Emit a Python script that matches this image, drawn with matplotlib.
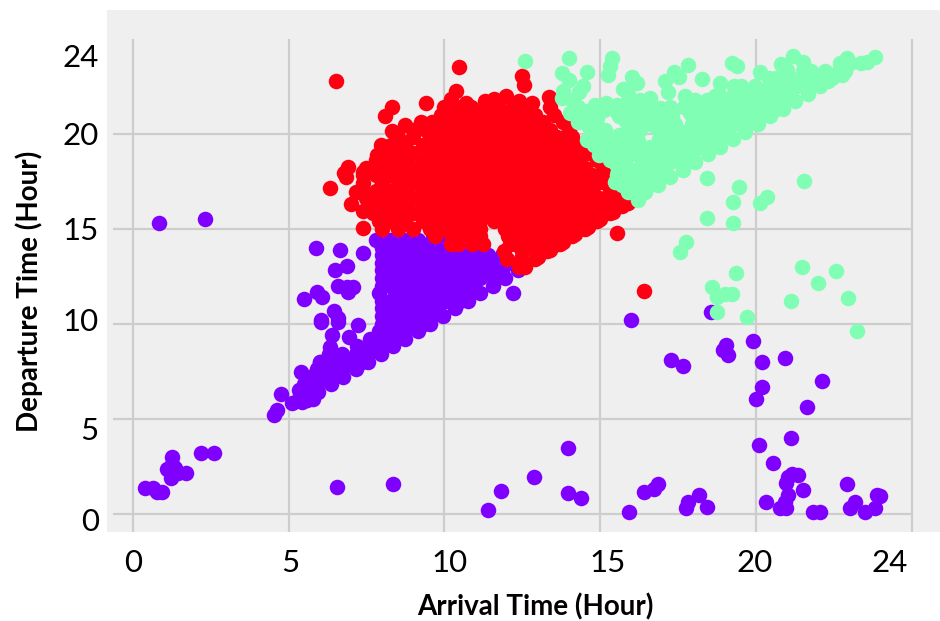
#!/usr/bin/env python3
import numpy as np
from matplotlib import pyplot as plt

plt.rcParams['font.family'] = ['Lato', 'DejaVu Sans']

# Values, in hours
grid_x = [0, 5, 10, 15, 20, 25]
grid_y = [0, 5, 10, 15, 20]
xlabel_pos = [0, 5.05, 10.15, 15.25, 19.95, 24.3]
xlabels = ['0', '5', '10', '15', '20', '24']
ylabel_pos = [24.1, 20, 15, 10.2, 4.5, -0.3]
ylabels = ['24', '20', '15', '10', '5', '0']

# Purple: loose points
purple_x = [0.83, 2.32, 5.89, 6.65, 7.4, 6.87, 6.49, 6.6, 6.92, 7.08, 6.87, 5.48, 5.9, 6.07, 6.47, 6.04, 6.6,
            6.04, 6.6, 7.24, 6.39, 6.95, 6.33, 6.01, 5.4, 5.69, 4.76, 4.62, 4.53, 5.1, 5.42, 5.8, 5.35,
            0.39, 0.66, 0.77, 0.93, 1.25, 1.09, 1.36, 1.23, 1.46, 1.71, 1.25, 2.19, 2.61,
            6.55, 8.34, 11.82, 11.39, 12.2,
            15.98, 18.55, 19.9, 19.03, 18.93, 19.1, 17.27, 17.65, 20.19, 20.93, 22.13, 20.2, 20.0, 21.63,
            21.12, 20.08, 13.98, 20.54, 12.88, 13.98, 14.39, 15.93, 16.39, 16.73, 16.84, 18.18, 17.83,
            17.76, 18.44, 21.36, 21.15, 21.01, 20.96, 21.49, 21.01, 20.93, 20.97, 20.78, 20.31, 21.84,
            22.04, 22.93, 23.18, 23.02, 23.5, 23.82, 23.88, 23.98]
purple_y = [15.3, 15.5, 14.0, 13.85, 13.7, 13.05, 12.83, 12.0, 11.68, 11.95, 11.95, 11.28, 11.65, 11.42, 10.67, 10.2, 10.3,
            10.07, 10.1, 9.93, 9.4, 9.28, 8.79, 8.0, 7.47, 7.13, 6.3, 5.46, 5.19, 5.81, 5.9, 6.02, 6.5,
            1.34, 1.34, 1.16, 1.16, 2.97, 2.35, 2.39, 1.86, 2.12, 2.12, 2.6, 3.21, 3.18,
            1.39, 1.55, 1.18, 0.2, 11.6,
            10.2, 10.63, 9.1, 8.88, 8.62, 8.35, 8.09, 7.79, 8.0, 8.21, 7.0, 6.65, 6.05, 5.63,
            3.97, 3.62, 3.47, 2.68, 1.95, 1.07, 0.81, 0.09, 1.13, 1.3, 1.55, 0.98, 0.63,
            0.28, 0.37, 2.04, 2.07, 1.95, 1.6, 1.25, 0.98, 0.63, 0.28, 0.28, 0.6, 0.1,
            0.1, 1.58, 0.63, 0.28, 0.07, 0.28, 0.98, 0.95]

# Purple: dense triangle, one list of x per row of y
purple_rows_y = [14.4, 14.0, 13.6, 13.2, 12.8, 12.4, 12.0, 11.6, 11.2, 10.8, 10.4, 10.0, 9.6, 9.2, 8.8, 8.4, 8.0, 7.6, 7.2, 6.8, 6.4, 6.0]
purple_rows_x = [
    [7.8, 8.25, 8.7, 9.15, 9.6, 10.05, 10.4],
    [8.0, 8.45, 8.9, 9.35, 9.8, 10.25, 10.7, 11.2],
    [8.0, 8.25, 8.7, 9.15, 9.6, 10.05, 10.5, 10.95, 11.4, 11.85],
    [8.0, 8.45, 8.9, 9.35, 9.8, 10.25, 10.7, 11.15, 11.6, 12.05, 12.5],
    [8.0, 8.25, 8.7, 9.15, 9.6, 10.05, 10.5, 10.95, 11.4, 11.85, 12.35],
    [8.0, 8.45, 8.9, 9.35, 9.8, 10.25, 10.7, 11.15, 11.6, 11.95],
    [8.0, 8.25, 8.7, 9.15, 9.6, 10.05, 10.5, 10.95, 11.55],
    [7.9, 8.45, 8.9, 9.35, 9.8, 10.25, 10.7, 11.15],
    [8.0, 8.25, 8.7, 9.15, 9.6, 10.05, 10.5, 10.75],
    [8.0, 8.45, 8.9, 9.35, 9.8, 10.35],
    [8.0, 8.25, 8.7, 9.15, 9.6, 9.95],
    [8.0, 8.45, 8.9, 9.35, 9.55],
    [7.9, 8.25, 8.7, 9.15],
    [7.6, 8.05, 8.45, 8.75],
    [7.2, 7.6, 8.0, 8.35],
    [6.3, 6.7, 7.15, 7.55, 7.95],
    [6.0, 6.45, 6.9, 7.35, 7.55],
    [5.9, 6.25, 6.7, 7.15],
    [5.7, 6.0, 6.45, 6.75],
    [5.5, 5.9, 6.35],
    [5.4, 5.7, 5.95],
    [5.3, 5.6],
]

# Red: loose points
red_x = [6.52, 10.46, 10.38, 9.41, 8.33, 8.1, 8.74, 9.24, 8.31, 7.97, 7.83, 6.92, 6.79, 6.85, 6.33, 7.4, 7.17, 7.0,
         7.4, 7.4, 12.5, 12.56, 11.97, 13.36, 15.55, 16.41, 15.9, 10.2, 10.7, 11.3, 11.6, 12.4, 12.8,
         15.4, 15.0, 14.6, 14.2, 13.8, 13.4, 13.0, 12.6, 15.5,
         9.55, 9.55, 9.55, 9.55, 9.55, 9.3, 9.3, 9.3, 9.3, 8.5, 8.5, 8.5, 8.5, 8.0, 8.0]
red_y = [22.74, 23.5, 22.26, 21.6, 21.39, 20.9, 20.46, 20.6, 20.16, 19.4, 18.88, 18.26, 17.92, 17.7, 17.16, 18.0, 16.95, 16.3,
         15.95, 15.05, 23.04, 22.56, 22.0, 21.92, 14.76, 11.72, 16.35, 21.8, 21.6, 21.7, 21.8, 21.7, 21.6,
         15.9, 15.5, 15.1, 14.7, 14.3, 13.9, 13.5, 13.1, 16.4,
         18.6, 17.8, 17.0, 16.2, 15.4, 18.2, 17.4, 16.6, 15.8, 17.8, 17.0, 16.2, 18.6, 17.4, 16.6]

# Red: dense block
red_rows_y = [21.4, 21.0, 20.6, 20.2, 19.8, 19.4, 19.0, 18.6, 18.2, 17.8, 17.4, 17.0, 16.6, 16.2, 15.8, 15.4, 15.0, 14.6, 14.2, 13.8, 13.4, 13.0]
red_rows_x = [
    [10.0, 10.4, 10.85, 11.3, 11.75, 12.2, 12.65, 13.4],
    [9.9, 10.2, 10.65, 11.1, 11.55, 12.0, 12.45, 12.9, 13.5],
    [9.6, 10.0, 10.45, 10.9, 11.35, 11.8, 12.25, 12.7, 13.15, 13.8],
    [9.0, 9.4, 9.8, 10.25, 10.7, 11.15, 11.6, 12.05, 12.5, 12.95, 13.4, 14.0],
    [8.5, 9.0, 9.55, 10.0, 10.45, 10.9, 11.35, 11.8, 12.25, 12.7, 13.15, 13.6, 14.1],
    [8.3, 8.75, 9.3, 9.8, 10.25, 10.7, 11.15, 11.6, 12.05, 12.5, 12.95, 13.4, 13.85, 14.3],
    [8.0, 8.5, 9.0, 9.55, 10.0, 10.45, 10.9, 11.35, 11.8, 12.25, 12.7, 13.15, 13.6, 14.05, 14.6],
    [7.8, 8.25, 8.75, 9.3, 9.8, 10.25, 10.7, 11.15, 11.6, 12.05, 12.5, 12.95, 13.4, 13.85, 14.3, 14.9],
    [7.5, 8.0, 8.5, 9.0, 9.55, 10.0, 10.45, 10.9, 11.35, 11.8, 12.25, 12.7, 13.15, 13.6, 14.05, 14.5, 15.1],
    [7.4, 7.8, 8.25, 8.75, 9.3, 9.8, 10.25, 10.7, 11.15, 11.6, 12.05, 12.5, 12.95, 13.4, 13.85, 14.3, 14.75, 15.1],
    [7.4, 8.0, 8.5, 9.0, 9.55, 10.0, 10.45, 10.9, 11.35, 11.8, 12.25, 12.7, 13.15, 13.6, 14.05, 14.5, 14.9, 15.2],
    [7.4, 7.8, 8.25, 8.75, 9.3, 9.8, 10.25, 10.7, 11.15, 11.6, 12.05, 12.5, 12.95, 13.4, 13.85, 14.3, 14.75, 15.3],
    [7.5, 8.0, 8.5, 9.0, 9.55, 10.0, 10.45, 10.9, 11.35, 11.8, 12.25, 12.7, 13.15, 13.6, 14.05, 14.5, 14.95, 15.3, 15.6],
    [7.7, 8.25, 8.75, 9.3, 9.8, 10.25, 10.7, 11.15, 11.6, 12.05, 12.5, 12.95, 13.4, 13.85, 14.3, 14.75, 15.2, 15.7],
    [7.7, 8.0, 8.5, 9.0, 9.55, 10.0, 10.45, 10.9, 11.35, 11.8, 12.25, 12.7, 13.15, 13.6, 14.05, 14.5, 14.95, 15.3],
    [7.9, 8.25, 8.75, 9.3, 9.8, 10.25, 10.7, 11.15, 11.6, 12.05, 12.5, 12.95, 13.4, 13.85, 14.3, 14.9],
    [8.0, 8.5, 9.0, 9.55, 10.0, 10.45, 10.9, 11.15, 11.95, 12.25, 12.7, 13.15, 13.6, 14.05, 14.5],
    [9.7, 10.25, 10.7, 11.15, 12.05, 12.5, 12.95, 13.4, 13.85, 14.1],
    [10.2, 10.45, 10.9, 11.25, 12.1, 12.25, 12.7, 13.15, 13.6, 13.7],
    [11.9, 12.5, 12.95, 13.3],
    [12.0, 12.45, 12.9],
    [12.4, 12.6],
]

# Green: loose points
green_x = [12.6, 14.01, 13.78, 14.57, 14.01, 13.79, 14.46, 14.33, 15.37, 15.3, 15.24, 16.01, 16.17, 15.74, 15.9,
           17.83, 17.35, 17.53, 17.08, 18.28, 17.16, 18.84, 19.22, 19.38, 20.13, 20.81, 21.18, 21.52, 20.99,
           22.91, 23.8, 23.56, 22.75, 22.32,
           18.42, 19.44, 19.26, 18.44, 19.27, 20.13, 20.35, 21.54, 17.75, 17.56, 19.35, 21.47, 22.57, 21.97,
           18.6, 19.24, 19.01, 18.74, 18.76, 19.72, 21.12, 22.95, 23.25,
           13.77, 14.09, 14.3, 14.04, 14.47, 14.84, 14.63, 15.11, 14.95, 14.57, 15.54, 15.86, 15.8, 16.28,
           16.6, 16.5, 16.93, 17.25, 16.18, 16.28, 16.82, 17.41, 17.73, 18.05, 17.89, 18.42, 18.69, 15.16,
           15.43, 15.0, 15.86, 16.02, 15.54, 14.95, 15.54, 15.48,
           14.2, 14.5, 14.7, 14.3, 15.0, 15.3, 15.6, 15.9, 16.2, 16.1, 15.9, 16.6, 16.2, 15.9, 15.2, 15.5,
           14.8, 15.1, 15.3, 15.5, 16.6, 17.1, 17.8, 18.1,
           16.5, 16.9, 17.3, 16.2, 15.9, 15.6, 15.6, 14.9, 14.7, 17.7, 17.95, 18.3, 16.4]
green_y = [23.84, 23.97, 23.18, 23.23, 22.83, 22.26, 22.51, 22.21, 23.97, 23.58, 23.09, 23.0, 22.65, 22.34, 22.1,
           23.62, 23.26, 23.0, 22.74, 22.86, 22.21, 22.65, 23.7, 23.58, 23.26, 23.67, 24.1, 23.79, 23.35,
           23.97, 24.05, 23.79, 23.09, 22.74,
           17.68, 17.21, 16.39, 15.56, 15.28, 16.34, 16.68, 17.53, 14.28, 13.79, 12.65, 13.0, 12.79, 12.13,
           11.95, 11.56, 11.56, 11.42, 10.6, 10.37, 11.19, 11.37, 9.63,
           21.86, 21.77, 21.42, 21.07, 20.89, 21.51, 20.37, 21.24, 20.02, 19.67, 21.51, 21.33, 20.72, 21.77,
           21.86, 21.16, 21.33, 21.42, 20.72, 20.19, 20.28, 20.46, 21.95, 21.77, 21.07, 21.77, 21.95, 20.19,
           19.67, 19.14, 19.84, 20.1, 19.05, 18.88, 17.83, 17.47,
           21.3, 21.2, 20.7, 20.6, 19.6, 19.4, 19.5, 19.4, 19.6, 20.4, 20.3, 21.5, 21.4, 21.7, 21.6, 21.2,
           19.4, 18.9, 18.6, 18.4, 20.5, 20.4, 21.4, 21.3,
           20.9, 20.9, 20.9, 21.0, 21.0, 20.9, 19.9, 20.8, 20.0, 21.4, 21.5, 21.4, 19.2]

# Green: dense band along the diagonal
green_rows_y = [16.5, 16.9, 17.3, 17.7, 18.1, 18.5, 18.9, 19.3, 19.7, 20.1, 20.5, 20.9, 21.3, 21.7, 22.1, 22.5, 22.9, 23.3, 23.7]
green_rows_x = [
    [16.2],
    [15.9, 16.45],
    [15.7, 16.15, 16.6, 16.85],
    [15.6, 15.9, 16.35, 16.8, 17.25],
    [15.9, 16.15, 16.6, 17.05, 17.65],
    [15.8, 16.35, 16.8, 17.25, 17.7, 18.05],
    [16.0, 16.6, 17.05, 17.5, 17.95, 18.45],
    [16.6, 16.8, 17.25, 17.7, 18.15, 18.6, 18.85],
    [16.9, 17.05, 17.5, 17.95, 18.4, 18.85, 19.25],
    [17.0, 17.25, 17.7, 18.15, 18.6, 19.05, 19.65],
    [17.4, 17.95, 18.4, 18.85, 19.3, 19.75, 20.05],
    [18.0, 18.15, 18.6, 19.05, 19.5, 19.95, 20.45],
    [18.3, 18.85, 19.3, 19.75, 20.2, 20.65, 20.85],
    [18.5, 19.05, 19.5, 19.95, 20.4, 20.85, 21.25],
    [18.8, 19.3, 19.75, 20.2, 20.65, 21.1, 21.65],
    [19.3, 19.5, 19.95, 20.4, 20.85, 21.3, 21.75, 22.05],
    [20.4, 20.65, 21.1, 21.55, 22.0, 22.45],
    [21.5, 21.75, 22.2, 22.65, 22.85],
    [22.7, 23.0, 23.35],
]


def flatten_rows(rows_y, rows_x): # Turn row lists into x and y arrays
    xs = np.concatenate([np.array(r, dtype=float) for r in rows_x])
    ys = np.concatenate([np.full(len(r), y) for y, r in zip(rows_y, rows_x)])
    return xs, ys


fig = plt.figure(figsize=(9.4, 6.21), dpi=100)
ax = fig.add_axes([107/940, 1-532/621, 833/940, 522/621], facecolor='#efefef')
ax.set_xlim(-0.825, 25.9)
ax.set_ylim(-0.96, 26.5)
for s in ax.spines.values():
    s.set_visible(False)

ax.vlines(grid_x, -0.96, 25, color='#cdcdcd', lw=1.6, zorder=1)
ax.hlines(grid_y, -0.64, 25, color='#cdcdcd', lw=1.6, zorder=1)

size = 125
dense_x, dense_y = flatten_rows(purple_rows_y, purple_rows_x)
ax.scatter(np.r_[purple_x, dense_x], np.r_[purple_y, dense_y], s=size, color='#8000ff', lw=0, zorder=2)
dense_x, dense_y = flatten_rows(red_rows_y, red_rows_x)
ax.scatter(np.r_[red_x, dense_x], np.r_[red_y, dense_y], s=size, color='#ff0013', lw=0, zorder=3)
dense_x, dense_y = flatten_rows(green_rows_y, green_rows_x)
ax.scatter(np.r_[green_x, dense_x], np.r_[green_y, dense_y], s=size, color='#80ffb4', lw=0, zorder=4)

ax.set_xticks(xlabel_pos, xlabels, fontsize=22.5, color='black')
ax.set_yticks(ylabel_pos, ylabels, fontsize=22.5, color='black')
ax.tick_params(axis='x', length=0, pad=12)
ax.tick_params(axis='y', length=0, pad=6)

fig.text(535/940, 1-607/621, 'Arrival Time (Hour)', fontsize=20, fontweight='bold', ha='center', va='center')
fig.text(29/940, 1-291/621, 'Departure Time (Hour)', fontsize=20, fontweight='bold', rotation=90, ha='center', va='center')

plt.savefig('out.png', dpi=100)
